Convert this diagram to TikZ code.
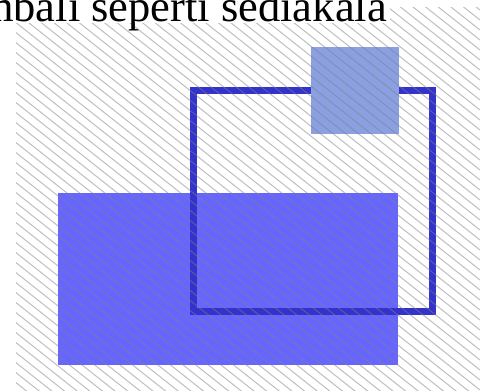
\documentclass[tikz,border=0pt]{standalone}
\usepackage{fontspec}
\setmainfont{Liberation Serif}
\definecolor{fillblue}{RGB}{102,102,255}
\definecolor{lineblue}{RGB}{51,51,204}
\definecolor{lightblue}{RGB}{138,160,226}
\definecolor{hatchgray}{RGB}{128,128,128}
\tikzset{
  bigrect/.style={fill=fillblue, draw=none},
  framerect/.style={draw=lineblue, line width=7pt},
  smallsq/.style={fill=lightblue, draw=none},
  hatchline/.style={draw=hatchgray, opacity=0.5, line width=1pt},
  caption/.style={font=\fontsize{44.5}{50}\selectfont, inner sep=0pt, anchor=base east}
}
\begin{document}
\begin{tikzpicture}[x=1pt,y=-1pt]
\useasboundingbox (0,0) rectangle (480,391);
\fill[white] (0,0) rectangle (480,391);
\path[bigrect] (58,193) rectangle (398,365);
\path[framerect] (193.5,90.5) rectangle (432,311);
\path[smallsq] (311,47) rectangle (399,134);
\begin{scope}
\clip (16,7) rectangle (480,391);
\foreach \k in {-45,...,40} {
  \draw[hatchline] (0,{\k*10}) -- (480,{\k*10+380});
}
\end{scope}
\fill[white] (0,0) rectangle (390,23);
\node[caption] (title) at (387,21) {kembali seperti sediakala};
\end{tikzpicture}
\end{document}
